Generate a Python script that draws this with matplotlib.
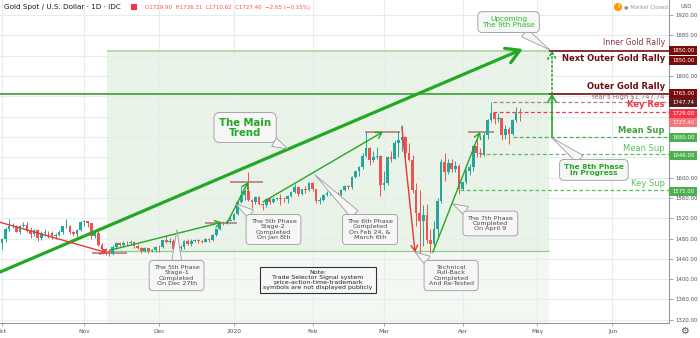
import matplotlib
matplotlib.use('Agg')
import matplotlib.pyplot as plt
import matplotlib.transforms as mtransforms
from matplotlib.patches import Rectangle
import numpy as np
import pandas as pd

# trading days (weekdays less the days with no bar), extended past the data for the axis
holidays = ['2019-12-25', '2020-01-01', '2020-04-10']
days = pd.bdate_range('2019-09-30', '2020-06-30').drop(pd.to_datetime(holidays))

opens = [1490,
         1472, 1479, 1499, 1505, 1505, 1493, 1505, 1506, 1495, 1488, 1497, 1481, 1491, 1491, 1490, 1484,
         1487, 1492, 1504, 1505, 1492, 1488, 1496,
         1513, 1514, 1510, 1484, 1490, 1467, 1459, 1456, 1449, 1463, 1471, 1468, 1472, 1471, 1474, 1465,
         1462, 1456, 1461, 1455, 1458,
         1464, 1463, 1477, 1474, 1476, 1460, 1462, 1464, 1475, 1470, 1476, 1477, 1475, 1474, 1479, 1478,
         1486, 1498, 1511, 1510, 1515,
         1517, 1528, 1551, 1566, 1574, 1556, 1552, 1562, 1548, 1545, 1557, 1551, 1557, 1560, 1558, 1557,
         1563, 1571, 1582, 1567, 1577, 1576,
         1589, 1577, 1553, 1556, 1566, 1570, 1573, 1567, 1566, 1576, 1584, 1581, 1602, 1612, 1620, 1643,
         1659, 1634, 1641, 1642,
         1585, 1589, 1640, 1637, 1669, 1674, 1680, 1649, 1635, 1576, 1530, 1514, 1526, 1477, 1470, 1498,
         1553, 1631, 1611, 1629, 1617, 1622,
         1577, 1591, 1613, 1620, 1663, 1649, 1646, 1684, 1713, 1727, 1716, 1717, 1683, 1695, 1686, 1713,
         1729.90]
highs = [1492,
         1482, 1502, 1519, 1511, 1507, 1507, 1513, 1512, 1502, 1499, 1499, 1495, 1499, 1495, 1494, 1490,
         1496, 1505, 1518, 1507, 1494, 1499, 1514,
         1517, 1515, 1511, 1494, 1494, 1471, 1462, 1459, 1467, 1474, 1474, 1475, 1475, 1478, 1476, 1469,
         1463, 1463, 1462, 1459, 1466,
         1468, 1478, 1484, 1482, 1479, 1465, 1467, 1477, 1479, 1480, 1479, 1479, 1478, 1481, 1481, 1488,
         1499, 1513, 1514, 1516, 1524,
         1530, 1553, 1582, 1577, 1611, 1558, 1563, 1564, 1550, 1559, 1559, 1561, 1562, 1567, 1561, 1566,
         1574, 1588, 1583, 1578, 1584, 1591,
         1592, 1578, 1562, 1568, 1573, 1577, 1574, 1571, 1578, 1585, 1586, 1603, 1613, 1623, 1649, 1689,
         1661, 1652, 1660, 1645,
         1612, 1642, 1653, 1673, 1692, 1703, 1682, 1668, 1645, 1590, 1575, 1546, 1547, 1499, 1515, 1559,
         1637, 1648, 1637, 1637, 1632, 1626,
         1592, 1617, 1626, 1665, 1676, 1659, 1690, 1715, 1747.74, 1730, 1728, 1718, 1703, 1699, 1715, 1738,
         1736.31]
lows = [1465,
        1459, 1474, 1495, 1500, 1492, 1488, 1502, 1493, 1481, 1485, 1475, 1477, 1485, 1482, 1480, 1479,
        1484, 1489, 1501, 1489, 1484, 1483, 1494,
        1504, 1502, 1480, 1482, 1465, 1456, 1448, 1446, 1447, 1460, 1465, 1464, 1467, 1467, 1461, 1459,
        1451, 1453, 1452, 1454, 1454,
        1454, 1461, 1472, 1472, 1458, 1458, 1458, 1460, 1467, 1465, 1473, 1472, 1471, 1473, 1474, 1476,
        1485, 1497, 1506, 1508, 1514,
        1516, 1526, 1550, 1556, 1553, 1540, 1547, 1546, 1536, 1543, 1547, 1549, 1556, 1546, 1552, 1550,
        1561, 1569, 1563, 1566, 1570, 1573,
        1573, 1549, 1548, 1553, 1563, 1566, 1563, 1562, 1563, 1573, 1578, 1578, 1599, 1603, 1617, 1640,
        1624, 1630, 1637, 1563,
        1575, 1585, 1630, 1636, 1641, 1653, 1639, 1633, 1570, 1504, 1451, 1465, 1471, 1451, 1465, 1482,
        1550, 1593, 1607, 1610, 1610, 1567,
        1576, 1588, 1605, 1612, 1640, 1641, 1642, 1676, 1709, 1706, 1710, 1673, 1676, 1667, 1683, 1709,
        1710.62]
closes = [1472,
          1479, 1499, 1505, 1505, 1493, 1505, 1506, 1495, 1488, 1497, 1481, 1491, 1492, 1490, 1484, 1487,
          1492, 1504, 1505, 1492, 1488, 1496, 1513,
          1514, 1510, 1484, 1490, 1467, 1459, 1456, 1449, 1463, 1471, 1468, 1472, 1471, 1474, 1465, 1462,
          1456, 1461, 1455, 1458, 1464,
          1463, 1477, 1474, 1476, 1460, 1462, 1464, 1475, 1470, 1476, 1477, 1475, 1474, 1479, 1478, 1486,
          1498, 1511, 1510, 1515, 1517,
          1528, 1551, 1566, 1574, 1556, 1552, 1562, 1548, 1545, 1557, 1551, 1557, 1560, 1558, 1557, 1563,
          1571, 1582, 1567, 1577, 1576, 1589,
          1577, 1553, 1556, 1566, 1570, 1573, 1567, 1566, 1576, 1584, 1581, 1602, 1612, 1620, 1643, 1659,
          1634, 1641, 1642, 1585,
          1589, 1640, 1637, 1669, 1674, 1680, 1649, 1635, 1576, 1530, 1514, 1526, 1477, 1470, 1498, 1553,
          1631, 1611, 1629, 1617, 1622, 1577,
          1591, 1613, 1620, 1663, 1649, 1646, 1684, 1713, 1727, 1716, 1717, 1683, 1695, 1686, 1713, 1730,
          1727.40]

month_labels = ['Oct', 'Nov', 'Dec', '2020', 'Feb', 'Mar', 'Apr', 'May', 'Jun']

# levels drawn on the right
inner_rally = 1850
outer_rally = 1765
years_high = 1747.74
key_res = 1729
mean_sup1 = 1680
mean_sup2 = 1646
key_sup = 1575
base_line = 1455

o = np.array(opens); h = np.array(highs); l = np.array(lows); c = np.array(closes)
x = np.arange(len(o))

fig = plt.figure(figsize=(7, 3.38), dpi=100)
ax = fig.add_axes([0, 15/338, 669/700, 323/338])
px_bar = 3.57
xl = 1 - 2/px_bar
xr = xl + 669/px_bar
ax.set_xlim(xl, xr)
ax.set_ylim(1313.7, 1949.5)

GREEN = '#22a822'
MAROON = '#6d0f0f'
up_col, dn_col = '#26a69a', '#ef5350'

# grid
ax.set_axisbelow('line')
ax.grid(True, color='#e6edf1', lw=0.8)

# shaded zones
ax.add_patch(Rectangle((30.4, base_line), 154.3-30.4, inner_rally-base_line,
                       fc='#e9f3e7', ec='none', zorder=0.5))
ax.add_patch(Rectangle((30.4, 1300), 154.3-30.4, base_line-1300,
                       fc='#f3f8f2', ec='none', zorder=0.5))
ax.hlines(inner_rally, 30.4, 154.3, color='#a9d6a2', lw=1.2, zorder=2)
ax.hlines(base_line, 30.4, 154.3, color='#8fcf86', lw=0.9, zorder=2)
ax.hlines(outer_rally, xl, 154.3, color='#3a9e3a', lw=1.2, zorder=2)
ax.hlines([inner_rally, outer_rally], 154.3, xr, color=MAROON, lw=1.2, zorder=2)

# dashed levels
dash = (0, (3, 2))
ax.hlines(years_high, 138.5, xr, color='#b08080', lw=0.9, linestyles=[dash], zorder=2)
ax.hlines(key_res, 138.5, xr, color='#f23645', lw=0.9, linestyles=[dash], zorder=2)
ax.hlines(mean_sup1, 144.1, xr, color='#4caf50', lw=0.9, linestyles=[dash], zorder=2)
ax.hlines(mean_sup2, 134.9, xr, color='#5cbf5c', lw=0.9, linestyles=[dash], zorder=2)
ax.hlines(key_sup, 129.3, xr, color='#5cbf5c', lw=0.9, linestyles=[dash], zorder=2)

# short marker lines at turning points
for x0, x1, yv in [(26.2, 36, 1451.5), (57.9, 66.8, 1510), (64.9, 74.1, 1591),
                   (102.7, 112.5, 1690), (131.5, 138.8, 1690)]:
    ax.hlines(yv, x0, x1, color='#b87a7a', lw=1.2, zorder=2.5)

# candles
cols = np.where(c >= o, up_col, dn_col)
ax.vlines(x, l, h, colors=cols, lw=0.7, zorder=3)
body = np.maximum(np.abs(c - o), 0.8)
ax.bar(x, body, bottom=np.minimum(o, c), width=0.74, color=cols, lw=0, zorder=4)


def arrow(x0, y0, x1, y1, color, lw, ms=8, ls='-', hl=0.5, hw=0.3):
    ax.annotate('', xy=(x1, y1), xytext=(x0, y0), zorder=6,
                arrowprops=dict(arrowstyle=f'->,head_length={hl},head_width={hw}', color=color,
                                lw=lw, shrinkA=0, shrinkB=0, mutation_scale=ms, linestyle=ls))


arrow(xl, 1414, 146.9, 1853, GREEN, 2.3, ms=16, hl=0.6, hw=0.35)
arrow(xl, 1512, 30.4, 1452, '#e53935', 1.0)
arrow(31.3, 1457, 62.6, 1512, GREEN, 1.0)
arrow(64, 1510, 69.9, 1591, GREEN, 1.0)
arrow(74.1, 1552, 107.7, 1690, GREEN, 1.0)
arrow(113, 1700, 116.7, 1453, '#e53935', 1.0)
arrow(121.7, 1453, 134.9, 1690, GREEN, 1.0)
arrow(155.06, mean_sup1, 155.06, outer_rally, GREEN, 1.2, ms=10)
arrow(155.06, outer_rally, 155.06, inner_rally, GREEN, 1.2, ms=10, ls=':')


def callout(text, tx, ty, px, py, color='#4a4a4a', fs=4.6, weight='normal', pad=0.7, ls=1.1):
    ax.annotate(text, xy=(px, py), xytext=(tx, ty), ha='center', va='center', fontsize=fs,
                color=color, fontweight=weight, linespacing=ls, zorder=8,
                bbox=dict(boxstyle=f'round,pad={pad},rounding_size=0.6', fc='#f6f6f6',
                          ec='#9a9a9a', lw=0.6),
                arrowprops=dict(arrowstyle='wedge,tail_width=0.7,shrink_factor=0.5',
                                fc='#f6f6f6', ec='#9a9a9a', lw=0.6, shrinkA=0, shrinkB=0,
                                mutation_scale=10))


callout('The Main\nTrend', 69.1, 1698.5, 81.1, 1656, color=GREEN, fs=7.3, weight='bold', pad=0.5,
        ls=1.0)
callout('The 5th Phase\nStage-1\nCompleted\nOn Dec 27th', 49.9, 1407, 50.0, 1497)
callout('The 5th Phase\nStage-2\nCompleted\nOn Jan 8th', 77.05, 1497.8, 66.5, 1548)
callout('The 6th Phase\nCompleted\nOn Feb 24, &\nMarch 6th', 104.1, 1497.8, 88.7, 1605)
callout('Technical\nPull-Back\nCompleted\nAnd Re-Tested', 126.8, 1407, 116.7, 1453)
callout('The 7th Phase\nCompleted\nOn April 9', 137.8, 1509.6, 127.3, 1548)
callout('The 8th Phase\nIn Progress', 166.8, 1615, 155.1, 1678, color=GREEN, fs=5.3,
        weight='bold', pad=0.6, ls=1.0)
callout('Upcoming\nThe 9th Phase', 142.9, 1906, 154.5, 1851, color='#2bbd2b', fs=5.3, pad=0.6,
        ls=1.0)

ax.text(89.5, 1399, 'Note:\nTrade Selector Signal system\nprice-action-time-trademark\n'
        'symbols are not displayed publicly', ha='center', va='center', fontsize=4.5,
        color='#222222', linespacing=1.0, zorder=8,
        bbox=dict(boxstyle='square,pad=0.5', fc='#f8f8f8', ec='#333333', lw=0.8))

# labels on the right of the plot
rt = mtransforms.blended_transform_factory(ax.transAxes, ax.transData)
for txt, yv, col, fs, wt in [('Inner Gold Rally', 1865, '#8b3a3a', 5.6, 'normal'),
                             ('Next Outer Gold Rally', 1835, MAROON, 6.0, 'bold'),
                             ('Outer Gold Rally', 1780, MAROON, 6.0, 'bold'),
                             ("Year's High $1,747.74", 1758.6, '#9b6b6b', 4.9, 'normal'),
                             ('Key Res', 1743, '#f23645', 6.0, 'bold'),
                             ('Mean Sup', 1693.5, '#43a047', 6.0, 'bold'),
                             ('Mean Sup', 1658, '#5cbf5c', 6.0, 'normal'),
                             ('Key Sup', 1589, '#5cbf5c', 6.0, 'normal')]:
    ax.text(0.994, yv, txt, transform=rt, ha='right', va='center', fontsize=fs,
            color=col, fontweight=wt, zorder=7)

# price tags on the axis
tag_h = 9 / 0.508
for txt, yv, col in [('1850.00', 1850, '#7a0a0a'), ('1850.00', 1830.4, '#7a0a0a'),
                     ('1765.00', 1764.5, '#7a0a0a'), ('1747.74', 1746.8, '#5f1c1c'),
                     ('1729.00', 1727, '#f23645'), ('1727.40', 1708.4, '#f5777b'),
                     ('1680.00', 1679, '#4caf50'), ('1646.00', 1644, '#4caf50'),
                     ('1575.00', 1573, '#4caf50')]:
    ax.add_patch(Rectangle((1.0, yv - tag_h/2), 28/669, tag_h, transform=rt, fc=col, ec='none',
                           clip_on=False, zorder=9))
    ax.text(1.0 + 14.5/669, yv, txt, transform=rt, ha='center', va='center', fontsize=3.9,
            color='white', clip_on=False, zorder=10)

# axes styling; tick labels hidden where a price tag sits on top of them
ax.yaxis.tick_right()
yt = np.arange(1320, 1921, 40)
covered = [1840, 1760, 1720, 1680, 1640]
ax.set_yticks(yt)
ax.set_yticklabels(['' if v in covered else f'{v:.2f}' for v in yt])
ax.tick_params(axis='y', length=3, width=0.6, color='#9598a1', labelsize=3.9,
               labelcolor='#50535e', pad=1.5)
month_pos = [days.get_loc(days[(days.year == yy) & (days.month == mm)][0])
             for yy, mm in [(2019, 10), (2019, 11), (2019, 12), (2020, 1), (2020, 2),
                            (2020, 3), (2020, 4), (2020, 5), (2020, 6)]]
ax.set_xticks(month_pos)
ax.set_xticklabels(month_labels)
ax.tick_params(axis='x', length=2, width=0.6, color='#9598a1', labelsize=4.2,
               labelcolor='#50535e', pad=2)
for s in ['top', 'left']:
    ax.spines[s].set_visible(False)
for s in ['right', 'bottom']:
    ax.spines[s].set_color('#9598a1')
    ax.spines[s].set_linewidth(0.8)

# header
fig.text(4/700, 1 - 7/338, 'Gold Spot / U.S. Dollar · 1D · IDC', fontsize=5.2,
         color='#131722', va='center')
fig.patches.append(Rectangle((131/700, 1 - 10/338), 6/700, 6/338, fc='#f23645', ec='none',
                             transform=fig.transFigure, figure=fig))
fig.text(145/700, 1 - 7/338, 'O1729.90  H1736.31  L1710.62  C1727.40  −2.65 (−0.15%)',
         fontsize=4.0, color='#ef5350', va='center')
fig.text(618/700, 1 - 7/338, '!', fontsize=3.8, color='white', fontweight='bold',
         ha='center', va='center',
         bbox=dict(boxstyle='circle,pad=0.3', fc='#ff9800', ec='none'))
fig.text(624/700, 1 - 7/338, '● Market Closed', fontsize=3.8, color='#9598a1', va='center')
fig.text(686/700, 1 - 6/338, 'USD', fontsize=3.8, color='#50535e', ha='center', va='center')
fig.text(684/700, 1 - 331/338, '⚙', fontsize=7, color='#50535e', ha='center', va='center')

fig.savefig('out.png', dpi=100)
